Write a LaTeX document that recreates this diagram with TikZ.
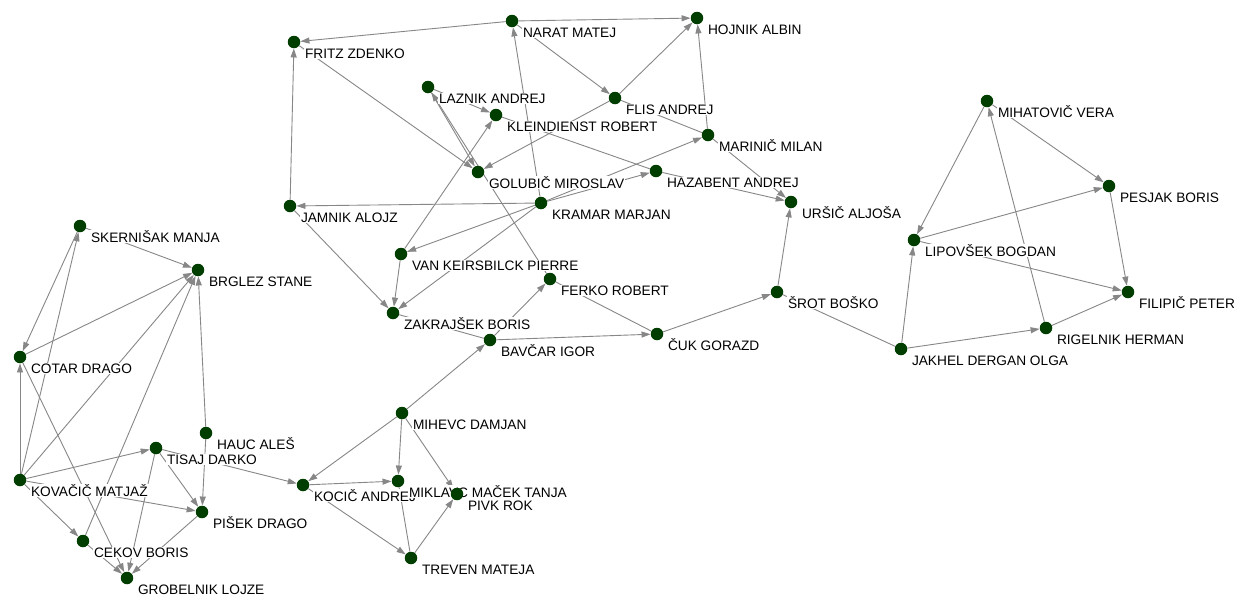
\documentclass[tikz,border=0pt]{standalone}
\usepackage{fontspec}
\setmainfont{Liberation Sans}
\usetikzlibrary{arrows.meta}
\pgfdeclarelayer{edges}
\pgfdeclarelayer{labels}
\pgfsetlayers{edges,labels,main}
\definecolor{dotgreen}{RGB}{0,62,0}
\definecolor{edgegray}{RGB}{135,135,135}
\tikzset{
  dot/.style={circle, fill=dotgreen, draw=none, minimum size=12.5pt, inner sep=0pt},
  lbl/.style={anchor=base west, fill=white, inner xsep=0.8pt, inner ysep=0.6pt,
    text=black, font=\fontsize{13.7}{16}\selectfont},
  arcline/.style={draw=edgegray, line width=0.9pt, -{Triangle[length=9pt,width=6pt]}},
  edgeline/.style={draw=edgegray, line width=0.9pt}
}
% a person: dot in the main layer, name tag in the label layer
\newcommand{\member}[4]{%
  \node[dot] (#1) at (#2,#3) {};
  \begin{pgfonlayer}{labels}
    \node[lbl] (#1-name) at (#2+10,#3+16.5) {#4};
  \end{pgfonlayer}}
\newcommand{\linkarc}[2]{\draw[arcline] (#1) -- (#2);}
\newcommand{\linkedge}[2]{\draw[edgeline] (#1) -- (#2);}
\begin{document}
\begin{tikzpicture}[x=1pt, y=-1pt]
\useasboundingbox (0,0) rectangle (1234,595);
\begin{pgfonlayer}{edges}
  \fill[white] (0,0) rectangle (1234,595);
\end{pgfonlayer}

% upper group
\member{fritz}{294}{42}{FRITZ ZDENKO}
\member{narat}{512}{21}{NARAT MATEJ}
\member{hojnik}{697}{18}{HOJNIK ALBIN}
\member{laznik}{428}{87}{LAZNIK ANDREJ}
\member{kleindienst}{496}{115}{KLEINDIENST ROBERT}
\member{flis}{615}{98}{FLIS ANDREJ}
\member{marinic}{708}{135}{MARINIČ MILAN}
\member{golubic}{478}{172}{GOLUBIČ MIROSLAV}
\member{hazabent}{656}{171}{HAZABENT ANDREJ}
\member{kramar}{541}{203}{KRAMAR MARJAN}
\member{jamnik}{290}{206}{JAMNIK ALOJZ}
\member{ursic}{791}{202}{URŠIČ ALJOŠA}
\member{vank}{401}{254}{VAN KEIRSBILCK PIERRE}
\member{ferko}{550}{279}{FERKO ROBERT}
\member{zakrajsek}{393}{313}{ZAKRAJŠEK BORIS}
\member{bavcar}{490}{340}{BAVČAR IGOR}
\member{cuk}{657}{334}{ČUK GORAZD}
\member{srot}{777}{292}{ŠROT BOŠKO}

% right group
\member{mihatovic}{987}{101}{MIHATOVIČ VERA}
\member{pesjak}{1109}{186}{PESJAK BORIS}
\member{lipovsek}{914}{240}{LIPOVŠEK BOGDAN}
\member{filipic}{1128}{292}{FILIPIČ PETER}
\member{rigelnik}{1046}{328}{RIGELNIK HERMAN}
\member{jakhel}{901}{349}{JAKHEL DERGAN OLGA}

% left group
\member{skernisak}{80}{226}{SKERNIŠAK MANJA}
\member{brglez}{198}{270}{BRGLEZ STANE}
\member{cotar}{20}{357}{COTAR DRAGO}
\member{kovacic}{20}{480}{KOVAČIČ MATJAŽ}
\member{hauc}{206}{433}{HAUC ALEŠ}
\member{tisaj}{156}{448}{TISAJ DARKO}
\member{pisek}{202}{512}{PIŠEK DRAGO}
\member{cekov}{83}{541}{CEKOV BORIS}
\member{grobelnik}{127}{578}{GROBELNIK LOJZE}

% lower middle group
\member{mihevc}{402}{413}{MIHEVC DAMJAN}
\member{kocic}{303}{485}{KOCIČ ANDREJ}
\member{miklavc}{398}{481}{MIKLAVC MAČEK TANJA}
\member{pivk}{457}{494}{PIVK ROK}
\member{treven}{411}{558}{TREVEN MATEJA}

\begin{pgfonlayer}{edges}
  % upper group
  \linkarc{narat}{fritz}
  \linkarc{narat}{hojnik}
  \linkarc{narat}{flis}
  \linkarc{flis}{hojnik}
  \linkarc{marinic}{hojnik}
  \linkarc{kramar}{narat}
  \linkarc{jamnik}{fritz}
  \linkarc{fritz}{golubic}
  \linkarc{laznik}{kleindienst}
  \linkarc{laznik}{golubic}
  \linkarc{ferko}{laznik}
  \linkarc{flis}{golubic}
  \linkedge{flis}{marinic}
  \linkedge{kleindienst}{hazabent}
  \linkarc{kramar}{hazabent}
  \linkarc{kramar}{marinic}
  \linkarc{kramar}{jamnik}
  \linkarc{kramar}{vank}
  \linkarc{kramar}{zakrajsek}
  \linkarc{vank}{kleindienst}
  \linkarc{vank}{zakrajsek}
  \linkarc{jamnik}{zakrajsek}
  \linkarc{marinic}{ursic}
  \linkarc{hazabent}{ursic}
  \linkarc{srot}{ursic}
  \linkarc{cuk}{srot}
  \linkedge{ferko}{cuk}
  \linkarc{bavcar}{cuk}
  \linkarc{bavcar}{ferko}
  \linkedge{zakrajsek}{bavcar}
  \linkarc{mihevc}{bavcar}
  % lower middle group
  \linkarc{mihevc}{kocic}
  \linkarc{mihevc}{miklavc}
  \linkarc{mihevc}{pivk}
  \linkarc{kocic}{miklavc}
  \linkarc{kocic}{treven}
  \linkedge{miklavc}{treven}
  \linkarc{treven}{pivk}
  \linkarc{tisaj}{kocic}
  % left group
  \linkarc{skernisak}{brglez}
  \linkarc{skernisak}{cotar}
  \linkarc{kovacic}{skernisak}
  \linkarc{cotar}{brglez}
  \linkarc{kovacic}{cotar}
  \linkarc{kovacic}{brglez}
  \linkarc{cekov}{brglez}
  \linkarc{hauc}{brglez}
  \linkarc{hauc}{pisek}
  \linkarc{cotar}{grobelnik}
  \linkarc{tisaj}{grobelnik}
  \linkarc{kovacic}{tisaj}
  \linkarc{kovacic}{pisek}
  \linkarc{kovacic}{cekov}
  \linkarc{tisaj}{pisek}
  \linkarc{pisek}{grobelnik}
  \linkarc{cekov}{grobelnik}
  % right group
  \linkarc{mihatovic}{lipovsek}
  \linkarc{mihatovic}{pesjak}
  \linkarc{rigelnik}{mihatovic}
  \linkarc{lipovsek}{pesjak}
  \linkarc{pesjak}{filipic}
  \linkarc{lipovsek}{filipic}
  \linkarc{rigelnik}{filipic}
  \linkarc{jakhel}{lipovsek}
  \linkarc{jakhel}{rigelnik}
  \linkedge{srot}{jakhel}
\end{pgfonlayer}
\end{tikzpicture}
\end{document}
